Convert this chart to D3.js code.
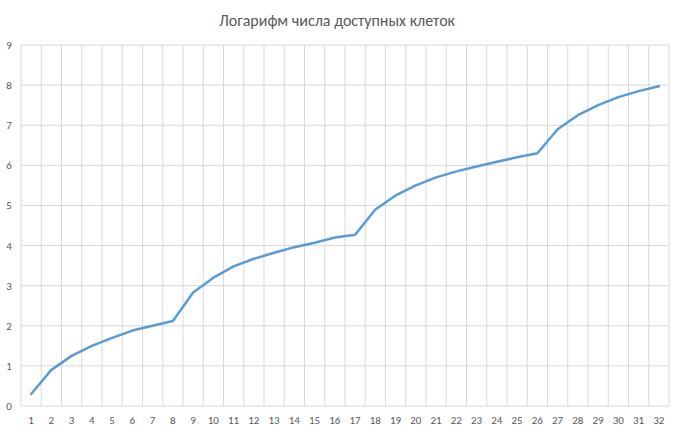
<!DOCTYPE html>
<html><head><meta charset="utf-8">
<script src="https://cdn.jsdelivr.net/npm/d3@7"></script>
<style>body{margin:0;background:#fff}</style>
</head><body>
<svg id="graph" width="674" height="435"></svg>
<script>
const categories = d3.range(1, 33)
const values = [0.3,0.9,1.25,1.5,1.7,1.88,2.0,2.12,2.83,3.2,3.48,3.67,3.82,3.96,4.07,4.2,4.27,4.9,5.25,5.5,5.7,5.85,5.97,6.09,6.2,6.3,6.9,7.25,7.5,7.7,7.85,7.97]
const yTicks = d3.range(0, 10)
const title = 'Логарифм числа доступных клеток'

const svg = d3.select('#graph')
const plotLeft = 21, plotRight = 669, plotTop = 45, plotBottom = 406

const x = d3.scaleBand().domain(categories).range([plotLeft, plotRight])
const y = d3.scaleLinear().domain([0, 9]).range([plotBottom, plotTop])

// horizontal grid
svg.selectAll('.hg').data(yTicks).enter().append('line')
    .attr('x1', plotLeft).attr('x2', plotRight)
    .attr('y1', d => y(d)).attr('y2', d => y(d))
    .attr('stroke', '#d9d9d9').attr('stroke-width', 1)

// vertical grid at category boundaries
svg.selectAll('.vg').data(categories.concat([33])).enter().append('line')
    .attr('x1', d => plotLeft + (d-1)*x.step()).attr('x2', d => plotLeft + (d-1)*x.step())
    .attr('y1', plotTop).attr('y2', plotBottom)
    .attr('stroke', '#d9d9d9').attr('stroke-width', 1)

svg.selectAll('.yl').data(yTicks).enter().append('text')
    .attr('x', 9).attr('y', d => y(d) + 4)
    .attr('text-anchor', 'middle')
    .attr('font-family', 'Calibri, Carlito, "Liberation Sans", sans-serif').attr('font-size', 11)
    .attr('fill', '#595959').text(d => d)

svg.selectAll('.xl').data(categories).enter().append('text')
    .attr('x', d => x(d) + x.bandwidth()/2).attr('y', 424)
    .attr('text-anchor', 'middle')
    .attr('font-family', 'Calibri, Carlito, "Liberation Sans", sans-serif').attr('font-size', 11)
    .attr('fill', '#595959').text(d => d)

const line = d3.line()
    .x((d, i) => x(categories[i]) + x.bandwidth()/2)
    .y(d => y(d))

svg.append('path').datum(values)
    .attr('d', line).attr('fill', 'none')
    .attr('stroke', '#5B9BD5').attr('stroke-width', 2.5)
    .attr('stroke-linejoin', 'round').attr('stroke-linecap', 'round')

svg.append('text').attr('x', 337).attr('y', 26)
    .attr('text-anchor', 'middle')
    .attr('font-family', 'Calibri, Carlito, "Liberation Sans", sans-serif').attr('font-size', 16)
    .attr('fill', '#595959').text(title)
</script>
</body></html>
